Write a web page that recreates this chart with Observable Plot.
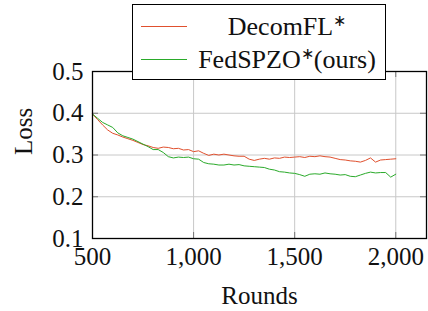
<!DOCTYPE html>
<html><head><meta charset="utf-8">
<script src="https://cdn.jsdelivr.net/npm/d3@7"></script>
<script src="https://cdn.jsdelivr.net/npm/@observablehq/plot@0.6"></script>
<style>
body{margin:0;background:#fff;}
#wrap{position:relative;width:428px;height:311px;font-family:"Liberation Serif",serif;}
#legend{position:absolute;left:132px;top:4px;width:252px;height:74px;border:1.3px solid #000;background:#fff;}
.row{position:absolute;left:0;width:100%;height:30px;}
.sw{position:absolute;left:8px;top:16px;width:46px;height:0;border-top:1.2px solid;}
.lab{position:absolute;left:56px;right:0;top:2px;text-align:center;font-size:26px;line-height:30px;white-space:nowrap;color:#111;}
.lab sup{font-size:0.6em;vertical-align:0.6em;line-height:0;}
</style></head>
<body>
<div id="wrap"></div>
<script>
const seriesNames = ["DecomFL", "FedSPZO"];
const legendLabels = ["DecomFL<sup>∗</sup>", "FedSPZO<sup>∗</sup>(ours)"];
const colors = ["#e0502e", "#2aaa2a"];
const rounds = d3.range(500, 2001, 25);
const decomFL = [0.398,0.385,0.372,0.360,0.352,0.348,0.343,0.339,0.335,0.330,0.325,0.322,0.318,0.316,0.319,0.318,0.315,0.316,0.312,0.313,0.308,0.310,0.304,0.299,0.302,0.300,0.302,0.300,0.298,0.297,0.297,0.290,0.287,0.290,0.292,0.290,0.293,0.292,0.295,0.294,0.295,0.296,0.294,0.297,0.296,0.298,0.296,0.295,0.292,0.289,0.288,0.286,0.285,0.283,0.287,0.293,0.283,0.288,0.289,0.290,0.291];
const fedSPZO = [0.398,0.388,0.378,0.372,0.366,0.353,0.346,0.342,0.338,0.332,0.326,0.320,0.313,0.313,0.306,0.296,0.293,0.295,0.294,0.295,0.291,0.290,0.282,0.279,0.278,0.276,0.276,0.278,0.276,0.277,0.274,0.273,0.272,0.271,0.270,0.266,0.264,0.260,0.259,0.257,0.256,0.253,0.249,0.254,0.255,0.254,0.257,0.255,0.254,0.252,0.253,0.249,0.248,0.252,0.256,0.259,0.257,0.258,0.258,0.247,0.254];
const xTicks = [500, 1000, 1500, 2000];
const yTicks = [0.1, 0.2, 0.3, 0.4, 0.5];
const xTickLabels = ["500", "1,000", "1,500", "2,000"];

const data = [];
rounds.forEach((r, i) => {
  data.push({round: r, loss: decomFL[i], series: seriesNames[0]});
  data.push({round: r, loss: fedSPZO[i], series: seriesNames[1]});
});

const W = 428, H = 311, mL = 92, mR = 2, mT = 71, mB = 73;
const fw = W - mL - mR, fh = H - mT - mB, tk = 6;

const chart = Plot.plot({
  width: W, height: H,
  marginLeft: mL, marginRight: mR, marginTop: mT, marginBottom: mB,
  style: {fontFamily: "'Liberation Serif', serif", background: "#fff"},
  x: {domain: [500, 2152]},
  y: {domain: [0.1, 0.5]},
  color: {domain: seriesNames, range: colors},
  marks: [
    Plot.ruleX(xTicks.slice(1), {x: d => d, stroke: "#c8c8c8", strokeWidth: 1}),
    Plot.ruleY(yTicks.slice(1, -1), {y: d => d, stroke: "#c8c8c8", strokeWidth: 1}),
    Plot.ruleX(xTicks, {x: d => d, insetTop: fh - tk, stroke: "#777"}),
    Plot.ruleX(xTicks, {x: d => d, insetBottom: fh - tk, stroke: "#777"}),
    Plot.ruleY(yTicks, {y: d => d, insetRight: fw - tk, stroke: "#777"}),
    Plot.ruleY(yTicks, {y: d => d, insetLeft: fw - tk, stroke: "#777"}),
    Plot.line(data, {x: "round", y: "loss", stroke: "series", strokeWidth: 1}),
    Plot.frame({stroke: "#000", strokeWidth: 1.3}),
    Plot.axisX(xTicks, {tickSize: 0, tickPadding: 9, fontSize: 25, fill: "#111", tickFormat: (d, i) => xTickLabels[i], label: null}),
    Plot.axisY(yTicks, {tickSize: 0, tickPadding: 9, fontSize: 25, fill: "#111", tickFormat: d => d.toFixed(1), label: null}),
    Plot.text(["Rounds"], {frameAnchor: "bottom", dy: 57, text: d => d, fontSize: 25, fill: "#111", lineAnchor: "middle"}),
    Plot.text(["Loss"], {frameAnchor: "left", dx: -69, text: d => d, fontSize: 25, fill: "#111", rotate: -90, lineAnchor: "middle"})
  ]
});

const wrap = document.getElementById("wrap");
wrap.appendChild(chart);
const leg = document.createElement("div");
leg.id = "legend";
const rowTops = [5, 38];
seriesNames.forEach((s, i) => {
  const row = document.createElement("div");
  row.className = "row";
  row.style.top = rowTops[i] + "px";
  row.innerHTML = `<div class="sw" style="border-color:${colors[i]}"></div><div class="lab">${legendLabels[i]}</div>`;
  leg.appendChild(row);
});
wrap.appendChild(leg);
</script>
</body></html>
